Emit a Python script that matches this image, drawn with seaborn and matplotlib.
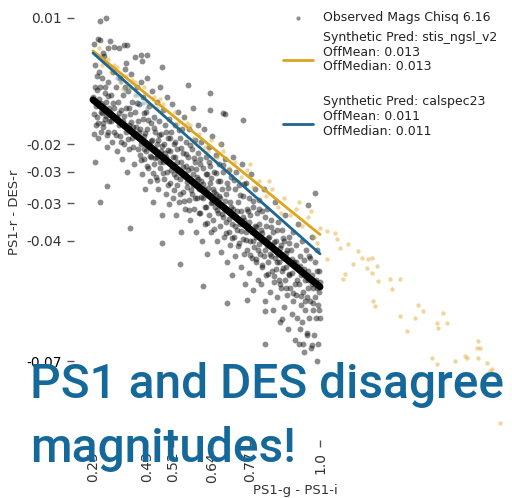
import matplotlib
matplotlib.use("Agg")
import matplotlib.pyplot as plt
import seaborn as sns
import pandas as pd

# ---------------- data ----------------
obs_pts = [
    (0.252,0.0040),(0.255,-0.0010),(0.258,-0.0060),(0.253,-0.0125),(0.260,-0.0150),(0.257,-0.0237),
    (0.262,-0.0035),(0.266,0.0051),(0.273,0.0093),(0.293,0.0100),(0.270,-0.0090),(0.275,-0.0120),
    (0.268,-0.0180),(0.280,-0.0040),(0.283,-0.0105),(0.278,-0.0165),(0.285,0.0010),(0.290,-0.0135),
    (0.288,-0.0075),(0.295,-0.0200),(0.296,-0.0291),(0.298,-0.0050),(0.300,0.0030),(0.302,-0.0110),
    (0.263,-0.0130),(0.272,-0.0060),(0.282,-0.0145),(0.292,-0.0095),(0.300,-0.0165),(0.305,0.0045),
    (0.273,-0.0330),(0.283,0.0018),(0.353,0.0037),(0.319,0.0032),(0.410,0.0014),(0.412,0.0000),
    (0.478,-0.0014),(0.564,-0.0056),(0.637,-0.0075),(0.637,-0.0115),(0.686,-0.0125),(0.745,-0.0138),
    (0.273,0.0049),(0.362,0.0037),(0.428,0.0014),(0.680,-0.0122),
    (0.308,-0.0080),(0.310,-0.0140),(0.312,-0.0190),(0.315,-0.0025),(0.318,-0.0110),(0.320,-0.0165),
    (0.325,-0.0060),(0.328,-0.0130),(0.330,-0.0210),(0.332,-0.0095),(0.335,-0.0150),(0.338,-0.0040),
    (0.340,-0.0175),(0.342,-0.0115),(0.345,-0.0230),(0.348,-0.0080),(0.350,-0.0140),(0.352,-0.0195),
    (0.355,-0.0020),(0.358,-0.0165),(0.360,-0.0110),(0.362,-0.0260),(0.365,-0.0070),(0.368,-0.0150),
    (0.370,-0.0205),(0.372,-0.0125),(0.375,-0.0030),(0.378,-0.0180),(0.380,-0.0095),(0.382,-0.0155),
    (0.385,-0.0240),(0.388,0.0009),(0.390,-0.0120),(0.392,-0.0175),(0.395,-0.0060),(0.398,-0.0205),
    (0.400,-0.0140),(0.335,0.0030),(0.360,-0.0005),(0.372,-0.0389),
    (0.402,-0.0100),(0.404,-0.0220),(0.406,-0.0160),(0.408,-0.0050),(0.410,-0.0195),(0.412,-0.0265),
    (0.414,-0.0135),(0.416,-0.0085),(0.418,-0.0230),(0.420,-0.0175),(0.422,-0.0300),(0.424,-0.0120),
    (0.426,-0.0210),(0.428,-0.0040),(0.430,-0.0160),(0.432,-0.0250),(0.434,-0.0195),(0.436,-0.0105),
    (0.438,-0.0280),(0.440,-0.0145),(0.442,-0.0225),(0.444,-0.0070),(0.446,-0.0185),(0.448,-0.0330),
    (0.450,-0.0240),(0.452,-0.0130),(0.454,-0.0205),(0.456,-0.0165),(0.458,-0.0270),(0.460,-0.0095),
    (0.462,-0.0225),(0.464,-0.0185),(0.466,-0.0300),(0.468,-0.0140),(0.470,-0.0250),(0.472,-0.0060),
    (0.474,-0.0210),(0.476,-0.0170),(0.478,-0.0360),(0.480,-0.0235),(0.482,-0.0115),(0.484,-0.0275),
    (0.486,-0.0195),(0.488,-0.0150),(0.490,-0.0310),(0.492,-0.0225),(0.494,-0.0085),(0.496,-0.0260),
    (0.498,-0.0180),(0.500,-0.0335),(0.478,-0.0424),
    (0.502,-0.0135),(0.504,-0.0210),(0.506,-0.0285),(0.508,-0.0165),(0.510,-0.0245),(0.512,-0.0100),
    (0.514,-0.0320),(0.516,-0.0195),(0.518,-0.0265),(0.520,-0.0225),(0.522,-0.0150),(0.524,-0.0360),
    (0.526,-0.0290),(0.528,-0.0205),(0.530,-0.0120),(0.532,-0.0255),(0.534,-0.0330),(0.536,-0.0180),
    (0.538,-0.0275),(0.540,-0.0235),(0.542,-0.0400),(0.544,-0.0160),(0.546,-0.0305),(0.548,-0.0215),
    (0.550,-0.0265),(0.552,-0.0130),(0.554,-0.0345),(0.556,-0.0245),(0.558,-0.0190),(0.560,-0.0295),
    (0.537,-0.0473),(0.564,-0.0225),(0.566,-0.0325),(0.568,-0.0160),(0.570,-0.0275),(0.572,-0.0370),
    (0.574,-0.0250),(0.576,-0.0205),(0.578,-0.0310),(0.580,-0.0110),(0.582,-0.0290),(0.584,-0.0345),
    (0.586,-0.0235),(0.588,-0.0185),(0.590,-0.0400),(0.592,-0.0270),(0.594,-0.0320),(0.596,-0.0215),
    (0.598,-0.0150),(0.600,-0.0300),
    (0.602,-0.0240),(0.604,-0.0355),(0.606,-0.0190),(0.608,-0.0280),(0.610,-0.0420),(0.612,-0.0320),
    (0.614,-0.0250),(0.616,-0.0160),(0.618,-0.0300),(0.620,-0.0380),(0.622,-0.0225),(0.624,-0.0340),
    (0.626,-0.0265),(0.628,-0.0450),(0.630,-0.0310),(0.632,-0.0200),(0.634,-0.0360),(0.636,-0.0285),
    (0.638,-0.0245),(0.640,-0.0400),(0.642,-0.0330),(0.644,-0.0175),(0.646,-0.0300),(0.648,-0.0370),
    (0.650,-0.0260),(0.613,-0.0525),(0.654,-0.0340),(0.656,-0.0220),(0.658,-0.0310),(0.660,-0.0420),
    (0.662,-0.0280),(0.664,-0.0355),(0.666,-0.0240),(0.668,-0.0385),(0.670,-0.0320),(0.672,-0.0195),
    (0.674,-0.0445),(0.676,-0.0300),(0.678,-0.0365),(0.680,-0.0260),(0.682,-0.0340),(0.684,-0.0410),
    (0.686,-0.0230),(0.688,-0.0375),(0.690,-0.0310),(0.692,-0.0470),(0.694,-0.0285),(0.696,-0.0350),
    (0.698,-0.0400),(0.700,-0.0255),
    (0.702,-0.0330),(0.704,-0.0430),(0.706,-0.0270),(0.708,-0.0380),(0.710,-0.0500),(0.712,-0.0345),
    (0.714,-0.0225),(0.716,-0.0410),(0.718,-0.0300),(0.720,-0.0455),(0.722,-0.0365),(0.724,-0.0260),
    (0.726,-0.0395),(0.693,-0.0564),(0.730,-0.0330),(0.732,-0.0425),(0.734,-0.0290),(0.736,-0.0380),
    (0.738,-0.0480),(0.740,-0.0350),(0.742,-0.0240),(0.744,-0.0415),(0.746,-0.0315),(0.748,-0.0450),
    (0.750,-0.0370),(0.752,-0.0520),(0.754,-0.0400),(0.756,-0.0285),(0.758,-0.0345),(0.760,-0.0440),
    (0.762,-0.0385),(0.764,-0.0495),(0.766,-0.0320),(0.768,-0.0420),(0.770,-0.0360),(0.772,-0.0265),
    (0.774,-0.0460),(0.776,-0.0400),(0.778,-0.0535),(0.780,-0.0340),(0.782,-0.0435),(0.784,-0.0385),
    (0.786,-0.0300),(0.788,-0.0470),(0.790,-0.0410),(0.792,-0.0355),(0.794,-0.0510),(0.796,-0.0440),
    (0.798,-0.0380),(0.800,-0.0325),(0.759,-0.0557),
    (0.802,-0.0450),(0.804,-0.0395),(0.806,-0.0520),(0.808,-0.0350),(0.810,-0.0480),(0.812,-0.0420),
    (0.814,-0.0300),(0.816,-0.0455),(0.818,-0.0560),(0.820,-0.0385),(0.822,-0.0500),(0.824,-0.0430),
    (0.826,-0.0345),(0.828,-0.0470),(0.818,-0.0660),(0.818,-0.0583),(0.832,-0.0410),(0.834,-0.0540),
    (0.836,-0.0450),(0.838,-0.0370),(0.840,-0.0490),(0.842,-0.0430),(0.844,-0.0580),(0.846,-0.0400),
    (0.848,-0.0515),(0.850,-0.0460),(0.852,-0.0330),(0.854,-0.0485),(0.856,-0.0420),(0.858,-0.0550),
    (0.860,-0.0450),(0.862,-0.0375),(0.864,-0.0510),(0.866,-0.0470),(0.868,-0.0610),(0.870,-0.0430),
    (0.872,-0.0530),(0.874,-0.0395),(0.876,-0.0490),(0.878,-0.0460),(0.880,-0.0575),(0.882,-0.0420),
    (0.884,-0.0510),(0.886,-0.0360),(0.888,-0.0480),(0.890,-0.0545),(0.892,-0.0440),(0.894,-0.0625),
    (0.896,-0.0500),(0.898,-0.0410),(0.900,-0.0470),(0.874,-0.0602),
    (0.902,-0.0530),(0.904,-0.0440),(0.906,-0.0590),(0.908,-0.0495),(0.910,-0.0400),(0.912,-0.0560),
    (0.914,-0.0470),(0.916,-0.0650),(0.918,-0.0520),(0.920,-0.0430),(0.922,-0.0545),(0.924,-0.0600),
    (0.926,-0.0480),(0.928,-0.0380),(0.930,-0.0520),(0.932,-0.0660),(0.934,-0.0455),(0.936,-0.0570),
    (0.938,-0.0500),(0.940,-0.0420),(0.942,-0.0610),(0.944,-0.0540),(0.946,-0.0465),(0.948,-0.0680),
    (0.950,-0.0580),(0.952,-0.0510),(0.954,-0.0440),(0.956,-0.0550),(0.958,-0.0640),(0.960,-0.0490),
    (0.962,-0.0530),(0.964,-0.0600),(0.966,-0.0460),(0.968,-0.0560),(0.970,-0.0670),(0.972,-0.0500),
    (0.974,-0.0410),(0.976,-0.0580),(0.978,-0.0530),(0.980,-0.0640),(0.982,-0.0470),(0.984,-0.0550),
    (0.986,-0.0600),(0.988,-0.0510),(0.990,-0.0440),(0.992,-0.0570),(0.994,-0.0660),(0.996,-0.0490),
    (0.998,-0.0540),(1.000,-0.0600),(0.983,-0.0309),(0.960,-0.0337),(0.990,-0.0700),(0.944,-0.0660),
    (0.974,-0.0662),(0.934,-0.0625),(0.957,-0.0634),
    (0.251,-0.0085),(0.254,-0.0170),(0.259,-0.0105),(0.264,-0.0068),(0.267,-0.0145),(0.271,-0.0025),
    (0.276,-0.0098),(0.279,-0.0122),(0.284,-0.0155),(0.287,-0.0110),(0.291,-0.0060),(0.294,-0.0128),
    (0.297,-0.0172),(0.301,-0.0082),(0.304,-0.0140),(0.306,-0.0120),
    (0.317,-0.0098),(0.327,-0.0172),(0.337,-0.0121),(0.341,-0.0189),(0.353,-0.0128),(0.357,-0.0061),
    (0.366,-0.0183),(0.369,-0.0109),(0.377,-0.0142),(0.383,-0.0201),(0.391,-0.0155),(0.396,-0.0098),
    (0.403,-0.0167),(0.407,-0.0232),(0.417,-0.0121),(0.419,-0.0206),(0.423,-0.0168),(0.427,-0.0245),
    (0.433,-0.0138),(0.437,-0.0221),(0.443,-0.0186),(0.447,-0.0261),(0.451,-0.0157),(0.455,-0.0226),
    (0.461,-0.0193),(0.463,-0.0278),(0.469,-0.0172),(0.473,-0.0236),(0.479,-0.0199),(0.481,-0.0262),
    (0.487,-0.0214),(0.491,-0.0167),(0.497,-0.0290),(0.499,-0.0207),(0.503,-0.0181),(0.507,-0.0254),
    (0.513,-0.0225),(0.517,-0.0301),(0.521,-0.0189),(0.523,-0.0271),(0.529,-0.0236),(0.533,-0.0162),
    (0.539,-0.0310),(0.541,-0.0204),(0.547,-0.0247),(0.549,-0.0328),(0.557,-0.0218),(0.559,-0.0283),
    (0.563,-0.0255),(0.567,-0.0348),(0.571,-0.0196),(0.573,-0.0301),(0.579,-0.0263),(0.583,-0.0227),
    (0.587,-0.0321),(0.589,-0.0252),(0.597,-0.0276),(0.599,-0.0355),(0.605,-0.0230),(0.607,-0.0318),
    (0.615,-0.0287),(0.619,-0.0342),(0.623,-0.0264),(0.627,-0.0379),(0.631,-0.0296),(0.633,-0.0236),
    (0.639,-0.0331),(0.641,-0.0273),(0.649,-0.0305),(0.651,-0.0392),(0.657,-0.0262),(0.659,-0.0349),
    (0.667,-0.0316),(0.669,-0.0281),(0.677,-0.0358),(0.679,-0.0242),(0.687,-0.0327),(0.689,-0.0401),
    (0.697,-0.0296),(0.699,-0.0368),(0.707,-0.0341),(0.709,-0.0412),(0.717,-0.0278),(0.719,-0.0384),
    (0.727,-0.0350),(0.729,-0.0431),(0.737,-0.0312),(0.739,-0.0396),(0.747,-0.0365),(0.749,-0.0288),
    (0.757,-0.0417),(0.761,-0.0351),(0.767,-0.0376),(0.769,-0.0452),(0.777,-0.0328),(0.779,-0.0421),
    (0.787,-0.0388),(0.789,-0.0462),(0.797,-0.0345),(0.799,-0.0427),(0.807,-0.0401),(0.809,-0.0475),
    (0.817,-0.0365),(0.819,-0.0440),(0.827,-0.0412),(0.829,-0.0497),(0.837,-0.0388),(0.839,-0.0455),
    (0.847,-0.0423),(0.849,-0.0502),(0.857,-0.0395),(0.859,-0.0468),(0.867,-0.0437),(0.869,-0.0521),
    (0.877,-0.0412),(0.879,-0.0483),(0.887,-0.0449),(0.889,-0.0530),(0.897,-0.0425),(0.899,-0.0498),
    (0.909,-0.0462),(0.911,-0.0541),(0.921,-0.0470),(0.923,-0.0512),(0.935,-0.0478),(0.937,-0.0548),
    (0.947,-0.0485),(0.949,-0.0560),(0.961,-0.0510),(0.963,-0.0455),(0.975,-0.0520),(0.977,-0.0565),
    (0.989,-0.0530),(0.991,-0.0490),(0.997,-0.0580),(0.999,-0.0515),
]

stis_pts = [
    (0.270,0.0030),(0.280,-0.0010),(0.300,0.0005),(0.310,-0.0025),(0.330,-0.0015),(0.340,-0.0050),
    (0.360,-0.0035),(0.370,-0.0065),(0.390,-0.0050),(0.400,-0.0080),(0.420,-0.0060),(0.430,-0.0095),
    (0.450,-0.0085),(0.460,-0.0110),(0.480,-0.0100),(0.500,-0.0135),(0.520,-0.0120),(0.540,-0.0160),
    (0.560,-0.0145),(0.580,-0.0180),(0.600,-0.0170),(0.620,-0.0200),(0.640,-0.0185),(0.660,-0.0225),
    (0.680,-0.0210),(0.700,-0.0250),(0.720,-0.0235),(0.740,-0.0270),(0.760,-0.0255),(0.780,-0.0295),
    (0.800,-0.0280),(0.820,-0.0315),(0.840,-0.0300),(0.860,-0.0340),(0.880,-0.0320),(0.900,-0.0360),
    (0.920,-0.0345),(0.940,-0.0385),(0.960,-0.0365),(0.980,-0.0410),(1.000,-0.0390),(0.990,-0.0425),
    (0.970,-0.0350),(0.930,-0.0330),(0.870,-0.0355),(0.830,-0.0280),(0.770,-0.0240),(0.730,-0.0280),
    (0.670,-0.0195),(0.630,-0.0210),(0.570,-0.0150),(0.530,-0.0145),(0.470,-0.0090),(0.440,-0.0105),
    (0.380,-0.0045),(0.350,-0.0065),(0.320,-0.0010),
    (1.023,-0.0396),(1.050,-0.0401),(1.056,-0.0415),(1.066,-0.0436),(1.093,-0.0426),(1.023,-0.0461),
    (1.126,-0.0443),(1.139,-0.0459),(1.159,-0.0461),(1.172,-0.0459),(1.109,-0.0473),(1.155,-0.0482),
    (1.188,-0.0478),(1.172,-0.0494),(1.083,-0.0496),(1.076,-0.0508),(1.192,-0.0513),(1.231,-0.0508),
    (1.264,-0.0508),(1.238,-0.0532),(1.175,-0.0560),(1.182,-0.0571),(1.324,-0.0569),(1.340,-0.0583),
    (1.314,-0.0599),(1.264,-0.0595),(1.406,-0.0588),(1.387,-0.0611),(1.420,-0.0611),(1.390,-0.0623),
    (1.287,-0.0630),(1.522,-0.0653),(1.529,-0.0670),(1.519,-0.0670),(1.370,-0.0693),(1.387,-0.0707),
    (1.446,-0.0700),(1.479,-0.0688),(1.486,-0.0693),(1.522,-0.0693),(1.552,-0.0705),(1.562,-0.0723),
    (1.552,-0.0730),(1.568,-0.0719),(1.595,-0.0845),
]

cal_pts = [
    (0.330,-0.0040),(0.343,-0.0050),(0.360,-0.0070),(0.372,-0.0060),(0.389,-0.0080),
    (0.400,-0.0095),(0.415,-0.0099),(0.430,-0.0110),(0.455,-0.0135),
]

fit_x = [0.25, 1.0]
obs_fit_y = [-0.0091, -0.0527]
stis_fit_y = [0.0023, -0.0405]
cal_fit_y = [0.0018, -0.0450]

xtick_vals = [0.25, 0.43, 0.515, 0.643, 0.77, 1.0]
ytick_vals = [0.01, -0.0194, -0.0259, -0.0332, -0.0420, -0.07]

obs_label = "Observed Mags Chisq 6.16"
stis_label = "Synthetic Pred: stis_ngsl_v2\nOffMean: 0.013\nOffMedian: 0.013\n"
cal_label = "Synthetic Pred: calspec23\nOffMean: 0.011\nOffMedian: 0.011\n"
title_text = "PS1 and DES disagree\nmagnitudes!"
xlabel = "PS1-g - PS1-i"
ylabel = "PS1-r - DES-r"

# ---------------- plot ----------------
sns.set_theme(style="ticks")
plt.rcParams['font.family'] = ['DejaVu Sans']

obs_df = pd.DataFrame(obs_pts, columns=["x", "y"])
stis_df = pd.DataFrame(stis_pts, columns=["x", "y"])
cal_df = pd.DataFrame(cal_pts, columns=["x", "y"])

W, H = 512, 498
fig = plt.figure(figsize=(W / 100, H / 100), dpi=100)
ax = fig.add_axes([74 / W, (H - 440) / H, (517 - 74) / W, (440 + 16) / H])

yellow = "#dca520"
blue = "#1f6690"

sns.scatterplot(data=obs_df, x="x", y="y", ax=ax, color="black", alpha=0.45,
                s=18, linewidth=0, label=obs_label)
sns.scatterplot(data=stis_df, x="x", y="y", ax=ax, color=yellow, alpha=0.45,
                s=10, linewidth=0, legend=False)
sns.scatterplot(data=cal_df, x="x", y="y", ax=ax, color="#5b9cc4", alpha=0.45,
                s=10, linewidth=0, legend=False)
sns.lineplot(x=fit_x, y=stis_fit_y, ax=ax, color=yellow, lw=2, label=stis_label)
sns.lineplot(x=fit_x, y=cal_fit_y, ax=ax, color=blue, lw=2, label=cal_label)
sns.lineplot(x=fit_x, y=obs_fit_y, ax=ax, color="black", lw=5, legend=False)

ax.set_xlim(0.1872, 1.6509)
ax.set_ylim(-0.0884, 0.0179)
ax.set_xticks(xtick_vals)
ax.set_xticklabels([str(round(v, 2)) for v in xtick_vals], rotation=90)
ax.set_yticks(ytick_vals)
ax.set_yticklabels([str(round(v, 2)) for v in ytick_vals])
ax.tick_params(axis="both", labelsize=10, colors="#555555", labelcolor="#333333",
               length=5, width=1)
ax.get_yticklabels()[-1].set_color("black")
ax.set_xlabel(xlabel, fontsize=9.5, color="#333333", labelpad=1)
ax.set_ylabel(ylabel, fontsize=9.5, color="#333333")
sns.despine(ax=ax, left=True, bottom=True)

leg = ax.legend(loc="upper left", bbox_to_anchor=(272 / W, 1),
                bbox_transform=fig.transFigure, frameon=False, fontsize=9,
                handlelength=2.4, markerscale=0.7)
for t in leg.get_texts():
    t.set_color("#222222")

fig.text(30 / W, 1 - 462 / H, title_text, fontsize=34.5, color="#15699a",
         family="Roboto", fontweight="medium", ha="left", va="baseline",
         linespacing=1.5)

fig.savefig("out.png", dpi=100)
